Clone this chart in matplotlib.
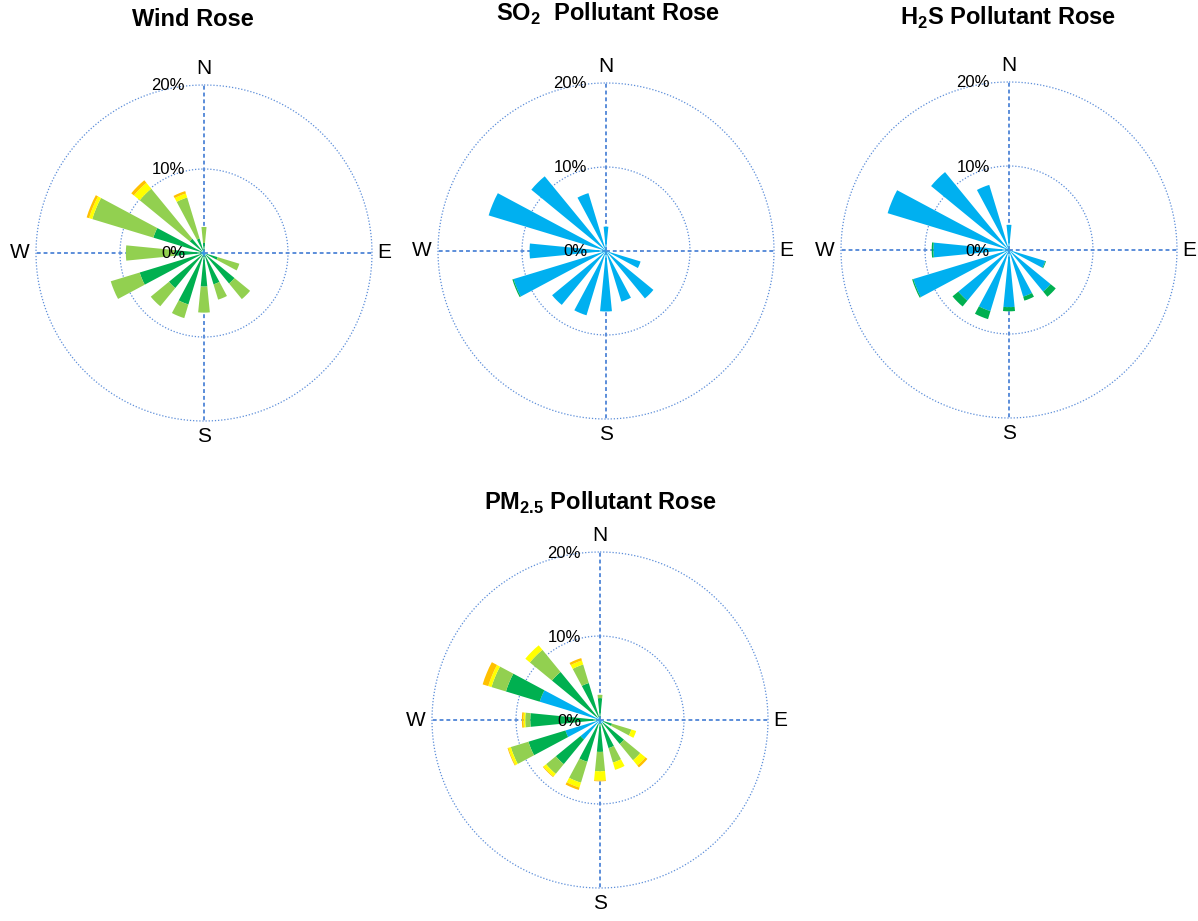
# Wind rose + pollutant roses, 16 directions, stacked classes
import numpy as np
import matplotlib.pyplot as plt

plt.rcParams['font.family'] = ['Liberation Sans', 'DejaVu Sans']
plt.rcParams['mathtext.fontset'] = 'custom'
plt.rcParams['mathtext.rm'] = 'Liberation Sans'
plt.rcParams['mathtext.bf'] = 'Liberation Sans:bold'

directions = ['N', 'NNE', 'NE', 'ENE', 'E', 'ESE', 'SE', 'SSE',
              'S', 'SSW', 'SW', 'WSW', 'W', 'WNW', 'NW', 'NNW']
class_colors = ['#00B0F0', '#00B050', '#92D050', '#FFFF00', '#FFC000']

# segment lengths (%) per class, in the order of `directions`
wind_cyan   = [0.3, 0, 0, 0, 0, 0.3, 0.3, 0.3, 0.3, 0.3, 0.3, 0.3, 0.3, 0.3, 0.3, 0.3]
wind_dgreen = [0.9, 0, 0, 0, 0, 1.4, 4.4, 3.6, 3.7, 6.1, 5.1, 7.7, 3.2, 6.0, 1.9, 1.5]
wind_lgreen = [1.9, 0, 0, 0, 0, 2.7, 2.4, 1.9, 3.1, 1.7, 2.8, 3.6, 5.8, 7.6, 7.7, 5.1]
wind_yellow = [0, 0, 0, 0, 0, 0, 0, 0, 0, 0, 0, 0, 0, 0.4, 0.9, 0.5]
wind_orange = [0, 0, 0, 0, 0, 0, 0, 0, 0, 0, 0, 0, 0, 0.3, 0.4, 0.3]

so2_cyan   = [2.9, 0, 0, 0, 0, 4.3, 7.3, 6.3, 7.2, 8.0, 8.3, 11.5, 9.1, 14.6, 11.5, 7.2]
so2_dgreen = [0, 0, 0, 0, 0, 0, 0, 0, 0, 0, 0, 0.15, 0, 0, 0, 0]

h2s_cyan   = [3.0, 0, 0, 0, 0, 4.5, 6.4, 5.8, 6.8, 7.6, 7.8, 11.9, 9.0, 15.1, 12.0, 8.1]
h2s_dgreen = [0, 0, 0, 0, 0, 0.1, 0.8, 0.5, 0.5, 1.0, 0.9, 0.15, 0.2, 0, 0, 0]

pm_cyan   = [0.3, 0, 0, 0, 0, 0.4, 0.5, 0.4, 0.5, 0.5, 3.0, 4.3, 0.5, 7.5, 0.4, 0.4]
pm_dgreen = [2.3, 0, 0, 0, 0, 1.1, 3.2, 3.1, 3.3, 4.7, 3.8, 4.6, 7.8, 4.2, 7.0, 4.2]
pm_lgreen = [0.4, 0, 0, 0, 0, 2.4, 2.5, 1.8, 2.3, 2.6, 1.5, 2.2, 0.6, 1.8, 3.4, 2.3]
pm_yellow = [0, 0, 0, 0, 0, 0.6, 0.8, 0.9, 1.1, 0.6, 0.4, 0.3, 0.2, 0.4, 0.7, 0.5]
pm_orange = [0, 0, 0, 0, 0, 0, 0.3, 0, 0.1, 0.3, 0.1, 0.1, 0.2, 0.7, 0, 0.3]

rings = [10, 20]
ring_labels = ['10%', '20%']

W, H = 1198, 921
R = 168  # pixel radius of the 20% ring
grid_color = '#5B8DD9'

fig = plt.figure(figsize=(W / 100, H / 100), dpi=100)


def draw_rose(cx, cy, layers, title, tx, ty):
    ax = fig.add_axes([(cx - R) / W, (H - cy - R) / H, 2 * R / W, 2 * R / H],
                      projection='polar')
    ax.set_theta_zero_location('N')
    ax.set_theta_direction(-1)
    ax.set_ylim(0, 20)
    ax.axis('off')

    theta = np.deg2rad(np.arange(16) * 22.5)
    t = np.linspace(0, 2 * np.pi, 400)
    for r in rings:
        ax.plot(t, np.full_like(t, r), color=grid_color, lw=0.9,
                ls=(0, (1, 1.5)), clip_on=False, zorder=1)
    ax.vlines(np.deg2rad([0, 90, 180, 270]), 0, 20, color=grid_color, lw=1.4,
              ls=(0, (2, 1.5)), clip_on=False, zorder=1)

    bottom = np.zeros(16)
    for vals, col in zip(layers, class_colors):
        vals = np.array(vals, dtype=float)
        ax.bar(theta, vals, width=np.pi / 16, bottom=bottom, color=col,
               linewidth=0, zorder=3)
        bottom += vals

    for r, lab in zip([0] + rings, ['0%'] + ring_labels):
        ax.annotate(lab, xy=(0, r), xytext=(-19, -1), textcoords='offset pixels',
                    ha='right', va='center', fontsize=12, zorder=5)

    ax.annotate('N', xy=(0, 20), xytext=(0, 7), textcoords='offset pixels',
                ha='center', va='bottom', fontsize=15)
    ax.annotate('S', xy=(np.pi, 20), xytext=(0, -6), textcoords='offset pixels',
                ha='center', va='top', fontsize=15)
    ax.annotate('E', xy=(np.pi / 2, 20), xytext=(5, 0), textcoords='offset pixels',
                ha='left', va='center', fontsize=15)
    ax.annotate('W', xy=(3 * np.pi / 2, 20), xytext=(-6, 0), textcoords='offset pixels',
                ha='right', va='center', fontsize=15)

    fig.text(tx / W, 1 - ty / H, title, ha='center', va='center',
             fontsize=17, fontweight='bold')


draw_rose(204, 253, [wind_cyan, wind_dgreen, wind_lgreen, wind_yellow, wind_orange],
          'Wind Rose', 193, 20)
draw_rose(606, 251, [so2_cyan, so2_dgreen],
          r'SO$_\mathbf{2}$  Pollutant Rose', 608, 14)
draw_rose(1009, 250, [h2s_cyan, h2s_dgreen],
          r'H$_\mathbf{2}$S Pollutant Rose', 1008, 18)
draw_rose(600, 720, [pm_cyan, pm_dgreen, pm_lgreen, pm_yellow, pm_orange],
          r'PM$_\mathbf{2.5}$ Pollutant Rose', 600, 503)

fig.savefig('out.png', dpi=100)
